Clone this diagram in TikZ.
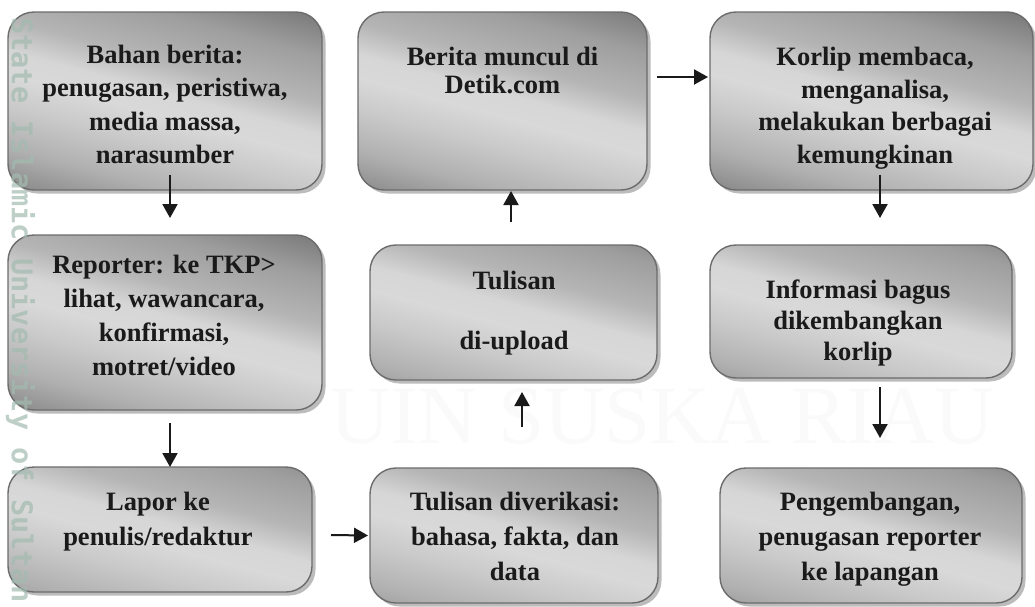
\documentclass[tikz,border=0pt]{standalone}
\usepackage{fontspec}
\setmainfont{Liberation Serif}
\newfontfamily\wmfont{DejaVu Sans Mono}
\usetikzlibrary{arrows.meta,shadows}
\definecolor{edgegray}{HTML}{6C6C6C}
\definecolor{inkc}{HTML}{1A1A1A}
\definecolor{wmgreen}{HTML}{A2BBB0}
\pgfdeclarehorizontalshading{boxshade}{100bp}{color(0bp)=(black!56); color(33bp)=(black!48); color(38.7bp)=(black!31); color(44bp)=(black!21); color(48bp)=(black!15); color(51bp)=(black!16); color(55bp)=(black!29); color(61bp)=(black!38); color(66.5bp)=(black!53); color(100bp)=(black!56)}
\newcommand{\firstl}{\rule{0pt}{24pt}}
\tikzset{
  procbox/.style={rectangle, rounded corners=26pt, draw=edgegray, line width=1.4pt,
    inner sep=0pt, outer sep=0pt,
    path picture={
      \begin{scope}[transform canvas={rotate around={75:(path picture bounding box.center)}}]
        \shade[shading=boxshade] ([xshift=-190pt,yshift=-190pt]path picture bounding box.center) rectangle ([xshift=190pt,yshift=190pt]path picture bounding box.center);
      \end{scope}
    },
    drop shadow={shadow xshift=3.5pt, shadow yshift=-3.5pt, fill=black!40, opacity=0.65}},
  boxtext/.style={anchor=north, align=center, inner sep=0pt, text=inkc},
  arr/.style={draw=inkc, line width=2pt, -{Triangle[length=14pt,width=15pt]}},
}
\begin{document}
\begin{tikzpicture}[x=1pt,y=-1pt]
\useasboundingbox (0,0) rectangle (1035,606);
\fill[white] (0,0) rectangle (1035,606);
% faint background watermark
\node[anchor=base west, inner sep=0pt, text=black!2, font={\fontsize{83}{83}\selectfont}] (wm2) at (330,443) {UIN SUSKA RIAU};
% boxes
\node[procbox, minimum width=314pt, minimum height=178pt] (b1) at (165,101) {};
\node[procbox, minimum width=289pt, minimum height=178pt] (b2) at (502.5,101) {};
\node[procbox, minimum width=323pt, minimum height=178pt] (b3) at (871.5,101) {};
\node[procbox, minimum width=314pt, minimum height=175pt] (b4) at (165,322.5) {};
\node[procbox, minimum width=287pt, minimum height=135pt] (b5) at (513.5,312.5) {};
\node[procbox, minimum width=302pt, minimum height=133pt] (b6) at (861,311.5) {};
\node[procbox, minimum width=304pt, minimum height=125pt] (b7) at (160,529.5) {};
\node[procbox, minimum width=288pt, minimum height=135pt] (b8) at (514,535.5) {};
\node[procbox, minimum width=302pt, minimum height=135pt] (b9) at (871,535.5) {};
% texts
\node[boxtext, font={\bfseries\fontsize{26.5}{33.3}\selectfont}] (t1) at (165,39.3) {\firstl Bahan berita:\\penugasan, peristiwa,\\media massa,\\narasumber};
\node[boxtext, font={\bfseries\fontsize{26.5}{28.7}\selectfont}] (t2) at (502.5,41) {\firstl Berita muncul di\\Detik.com};
\node[boxtext, font={\bfseries\fontsize{26.5}{32.8}\selectfont}] (t3) at (875,41) {\firstl Korlip membaca,\\menganalisa,\\melakukan berbagai\\kemungkinan};
\node[boxtext, font={\bfseries\fontsize{26.5}{33.9}\selectfont}] (t4) at (164,249.3) {\firstl Reporter: ke TKP>\\lihat, wawancara,\\konfirmasi,\\motret/video};
\node[boxtext, font={\bfseries\fontsize{26.5}{30}\selectfont}] (t5) at (514,265.3) {\firstl Tulisan\\[30pt]di-upload};
\node[boxtext, font={\bfseries\fontsize{26.5}{31}\selectfont}] (t6) at (858,274.3) {\firstl Informasi bagus\\dikembangkan\\korlip};
\node[boxtext, font={\bfseries\fontsize{26.5}{35}\selectfont}] (t7) at (158,486) {\firstl Lapor ke\\penulis/redaktur};
\node[boxtext, font={\bfseries\fontsize{26.5}{35}\selectfont}] (t8) at (515,486) {\firstl Tulisan diverikasi:\\bahasa, fakta, dan\\data};
\node[boxtext, font={\bfseries\fontsize{26.5}{35}\selectfont}] (t9) at (870,486) {\firstl Pengembangan,\\penugasan reporter\\ke lapangan};
% connectors
\draw[arr] ([xshift=5pt,yshift=15pt]b1.south) -- ([xshift=5pt,yshift=17pt]b4.north);
\draw[arr] ([xshift=5pt,yshift=-13pt]b4.south) -- ([xshift=10pt]b7.north);
\draw[arr] ([xshift=19pt,yshift=-5.5pt]b7.east) -- ([xshift=-2pt]b8.west);
\draw[arr] ([xshift=8pt,yshift=41pt]b8.north) -- ([xshift=8.5pt,yshift=-12pt]b5.south);
\draw[arr] ([xshift=-2.5pt,yshift=23pt]b5.north) -- ([xshift=8.5pt,yshift=-1pt]b2.south);
\draw[arr] ([xshift=10pt,yshift=24pt]b2.east) -- ([xshift=-2pt,yshift=24pt]b3.west);
\draw[arr] ([xshift=8.5pt,yshift=15pt]b3.south) -- ([xshift=19pt,yshift=27pt]b6.north);
\draw[arr] ([xshift=19pt,yshift=-9pt]b6.south) -- ([xshift=9pt,yshift=30pt]b9.north);
% side watermark
\node[anchor=base west, rotate=-90, inner sep=0pt, text=wmgreen, opacity=0.7, font={\wmfont\bfseries\fontsize{28.6}{28.6}\selectfont}] (wm1) at (12,17) {State Islamic University of Sultan};
\end{tikzpicture}
\end{document}
